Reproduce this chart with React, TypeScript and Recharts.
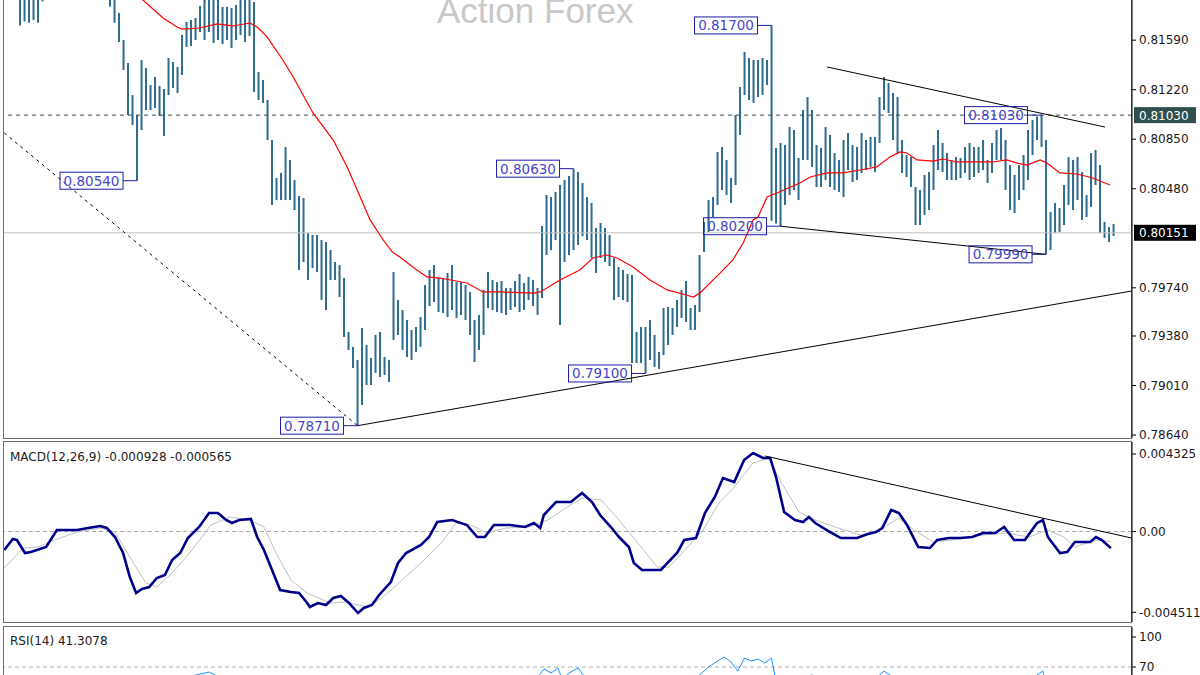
import React from "react";
import {
  ComposedChart,
  Bar,
  Line,
  XAxis,
  YAxis,
  ReferenceLine,
  ReferenceDot,
} from "recharts";

const FONT = "DejaVu Sans, Verdana, sans-serif";
const BAR_COLOR = "#2e6b8c";
const X_DOMAIN: [number, number] = [-3.56, 247.1];

// price bars, left to right (high / low)
const barHighs = [
  0.8208, 0.8205, 0.8206, 0.821, 0.8212, 0.8216, 0.822, 0.8226, 0.823, 0.8228,
  0.8232, 0.8235, 0.8233, 0.8229, 0.8226, 0.8224, 0.8221, 0.8218, 0.8214, 0.8212,
  0.821, 0.82, 0.81793, 0.81591, 0.81419, 0.8118, 0.81031, 0.81442, 0.81382, 0.81255,
  0.81315, 0.81248, 0.81225, 0.81457, 0.81427, 0.8139, 0.81629, 0.81726, 0.81741, 0.81756,
  0.81845, 0.81927, 0.8195, 0.81935, 0.81965, 0.81838, 0.81838, 0.8183, 0.81853, 0.81912,
  0.81927, 0.81927, 0.81875, 0.81352, 0.81292, 0.81143, 0.80844, 0.8056, 0.80598, 0.80792,
  0.80695, 0.80545, 0.80426, 0.80411, 0.80149, 0.80135, 0.80135, 0.80097, 0.80082, 0.80022,
  0.79933, 0.7991, 0.79813, 0.7941, 0.79298, 0.79201, 0.7944, 0.79313, 0.79216, 0.79388,
  0.7941, 0.79223, 0.79201, 0.79858, 0.79649, 0.79574, 0.795, 0.79425, 0.79447, 0.79522,
  0.79761, 0.79873, 0.7991, 0.79813, 0.79813, 0.79851, 0.7991, 0.79783, 0.79783, 0.79761,
  0.79709, 0.795, 0.79537, 0.79724, 0.79858, 0.79798, 0.79783, 0.79791, 0.79739, 0.79739,
  0.79791, 0.79843, 0.79776, 0.79821, 0.79798, 0.79739, 0.80202, 0.80433, 0.80418, 0.80456,
  0.80508, 0.80545, 0.80575, 0.8063, 0.80605, 0.80523, 0.80418, 0.80374, 0.80187, 0.80224,
  0.80187, 0.80135, 0.79963, 0.79895, 0.79873, 0.79843, 0.79836, 0.7941, 0.79447, 0.79447,
  0.795, 0.79388, 0.79261, 0.79589, 0.79597, 0.79589, 0.79649, 0.79724, 0.79791, 0.79589,
  0.79612, 0.79985, 0.80232, 0.80396, 0.80418, 0.80755, 0.80792, 0.80695, 0.8056, 0.81031,
  0.8124, 0.81502, 0.81457, 0.81442, 0.81442, 0.81457, 0.81442, 0.817, 0.80784, 0.80822,
  0.80807, 0.80941, 0.80919, 0.8071, 0.81068, 0.81165, 0.81068, 0.80807, 0.80784, 0.80941,
  0.80882, 0.80747, 0.80695, 0.80844, 0.80896, 0.80807, 0.80792, 0.80896, 0.80844, 0.80867,
  0.80867, 0.81165, 0.81315, 0.8127, 0.81195, 0.81165, 0.80844, 0.80732, 0.80717, 0.80493,
  0.80471, 0.80583, 0.80605, 0.80807, 0.80919, 0.80822, 0.80747, 0.80695, 0.80717, 0.8071,
  0.80792, 0.80822, 0.80792, 0.80792, 0.80844, 0.80695, 0.80822, 0.80919, 0.80934, 0.80844,
  0.80657, 0.80583, 0.80657, 0.80732, 0.80919, 0.80994, 0.8102, 0.8103, 0.80844, 0.80306,
  0.80374, 0.80336, 0.80508, 0.80717, 0.80695, 0.80717, 0.80605, 0.80433, 0.80747, 0.8077,
  0.80657, 0.80232, 0.80194, 0.80217,
];

const barLows = [
  0.817, 0.8173, 0.8172, 0.8174, 0.8172, 0.8188, 0.8195, 0.82, 0.8205, 0.8203,
  0.8208, 0.821, 0.8207, 0.8204, 0.82, 0.8198, 0.8196, 0.8194, 0.8192, 0.8191,
  0.8184, 0.8172, 0.81576, 0.81367, 0.81031, 0.80956, 0.8054, 0.80919, 0.81068, 0.81068,
  0.81083, 0.81023, 0.80874, 0.8118, 0.81233, 0.81195, 0.8133, 0.81539, 0.81546, 0.81591,
  0.81651, 0.81591, 0.81651, 0.81569, 0.81591, 0.81561, 0.81591, 0.81531, 0.81591, 0.81629,
  0.81576, 0.81621, 0.81203, 0.81143, 0.81121, 0.80844, 0.80359, 0.80396, 0.80396, 0.80396,
  0.80396, 0.80321, 0.79873, 0.79933, 0.79798, 0.79888, 0.79858, 0.79649, 0.79574, 0.79798,
  0.79798, 0.79671, 0.79373, 0.79276, 0.79141, 0.7871, 0.78865, 0.79014, 0.79014, 0.79104,
  0.79074, 0.79089, 0.79037, 0.7935, 0.79388, 0.79276, 0.79223, 0.79201, 0.79261, 0.79298,
  0.79425, 0.79604, 0.79634, 0.79559, 0.79552, 0.79522, 0.79574, 0.79515, 0.79537, 0.795,
  0.79388, 0.79186, 0.79276, 0.79388, 0.79589, 0.79574, 0.79559, 0.79552, 0.79537, 0.79574,
  0.79597, 0.79559, 0.79574, 0.79649, 0.79604, 0.79537, 0.79664, 0.79985, 0.80022, 0.80097,
  0.79462, 0.79933, 0.79985, 0.80022, 0.8006, 0.80127, 0.80097, 0.79963, 0.79851, 0.79963,
  0.79933, 0.79903, 0.79649, 0.79671, 0.79649, 0.79634, 0.79178, 0.79178, 0.79178, 0.791,
  0.79201, 0.79149, 0.79134, 0.79238, 0.79313, 0.79388, 0.79447, 0.79515, 0.79485, 0.79425,
  0.79425, 0.79559, 0.80008, 0.80157, 0.80269, 0.80359, 0.80471, 0.80433, 0.80374, 0.80508,
  0.80882, 0.8118, 0.81143, 0.81121, 0.81165, 0.8118, 0.81255, 0.8024, 0.8022, 0.802,
  0.80359, 0.80433, 0.80471, 0.80396, 0.80695, 0.80695, 0.80643, 0.80493, 0.80493, 0.80545,
  0.80493, 0.80471, 0.80456, 0.80418, 0.8062, 0.8053, 0.80545, 0.80598, 0.8062, 0.80643,
  0.80605, 0.80822, 0.81068, 0.81046, 0.80844, 0.80747, 0.80598, 0.80568, 0.80493, 0.80209,
  0.80209, 0.80284, 0.80321, 0.80471, 0.8062, 0.80605, 0.80545, 0.80545, 0.80545, 0.8056,
  0.80598, 0.80545, 0.80568, 0.80598, 0.8062, 0.80523, 0.80598, 0.80695, 0.80695, 0.80471,
  0.80321, 0.80299, 0.80396, 0.80471, 0.80545, 0.80732, 0.80844, 0.80792, 0.7999, 0.80022,
  0.80149, 0.80157, 0.80209, 0.80359, 0.80321, 0.80396, 0.80247, 0.80269, 0.80344, 0.80508,
  0.80149, 0.80112, 0.80082, 0.80127,
];

// red moving average: [bar index, price]
const maPoints: [number, number][] = [
  [-3.5, 0.8232], [13, 0.8222], [22, 0.8205], [27.3, 0.8189], [31.8, 0.81756], [34.9, 0.81688],
  [36, 0.81673], [40, 0.81681], [43.8, 0.81711], [47.3, 0.81696], [51.1, 0.81718], [52.7, 0.81688],
  [54.9, 0.81614], [58.4, 0.81442], [60.7, 0.81315], [65.1, 0.81046], [69.6, 0.80844], [72.7, 0.80643],
  [75.6, 0.80418], [77.8, 0.80247], [80.7, 0.80097], [82.7, 0.80008], [84.4, 0.7997], [87.3, 0.79896],
  [90.4, 0.79821], [93.3, 0.79813], [99.3, 0.79776], [102.9, 0.79709], [106.7, 0.79709], [114, 0.79701],
  [115.6, 0.79709], [120, 0.79798], [124.4, 0.79873], [127.3, 0.79963], [130.4, 0.79985], [132.7, 0.79963],
  [136.2, 0.79896], [140, 0.79798], [143.8, 0.79724], [147.3, 0.79694], [149.6, 0.79671], [151.1, 0.79701],
  [155.6, 0.79851], [158.4, 0.79948], [160.7, 0.80075], [162.9, 0.80247], [164, 0.80269], [166, 0.80418],
  [168.2, 0.80448], [173.3, 0.80523], [175.6, 0.80568], [179.3, 0.80598], [182.9, 0.80598], [186.7, 0.8062],
  [190.4, 0.80643], [193.3, 0.80717], [195.6, 0.80755], [197.1, 0.80747], [199.3, 0.80695], [202.9, 0.80687],
  [205.1, 0.80702], [208.2, 0.8068], [212.7, 0.8068], [216.2, 0.8068], [219.3, 0.80695], [221.6, 0.80672],
  [223.8, 0.80657], [226.7, 0.80695], [228.2, 0.80672], [231.1, 0.80598], [234.9, 0.8059], [238.4, 0.8056],
  [242.2, 0.80508],
];

// MACD main line: [bar index, value]
const macdMain: [number, number][] = [
  [-3.5, -0.001032], [-1.6, -0.000419], [-0.7, -0.000474], [1.1, -0.0012], [2.4, -0.001144], [5.8, -0.000865],
  [8.2, 0.000084], [12.7, 0.000084], [15.1, 0.000195], [17.8, 0.000307], [19.3, 0.000195], [21.1, -0.000307],
  [22.9, -0.0012], [24.4, -0.002539], [25.8, -0.003432], [27.1, -0.003209], [28.7, -0.003097], [30.4, -0.002595],
  [32.2, -0.002427], [33.8, -0.00159], [35.6, -0.0012], [37.3, -0.000363], [39.8, 0.000251], [42, 0.001032],
  [44, 0.001032], [45.8, 0.000642], [47.1, 0.000474], [48.7, 0.000642], [51.3, 0.000698], [52.7, -0.000307],
  [54.2, -0.001032], [56, -0.002148], [57.8, -0.003264], [60.2, -0.003376], [62, -0.003432], [63.8, -0.00399],
  [64.4, -0.004213], [66.2, -0.00399], [68, -0.004101], [69.6, -0.003711], [71.3, -0.003599], [73.1, -0.00399],
  [75.1, -0.004548], [76.4, -0.004269], [78.2, -0.004101], [79.8, -0.003543], [82.4, -0.002818], [84, -0.001758],
  [85.8, -0.0012], [89.1, -0.000753], [90.9, -0.000307], [92.7, 0.00053], [96, 0.000642], [99.3, 0.000363],
  [101.6, -0.000307], [103.3, -0.000307], [105.3, 0.000363], [108.9, 0.000363], [112.2, 0.000251], [114.2, 0.000474],
  [115.6, 0.000195], [116.4, 0.000921], [119.1, 0.001646], [122.4, 0.001646], [124.9, 0.002148], [127.1, 0.001646],
  [128.9, 0.000921], [131.3, 0.000251], [133.1, -0.000307], [135.3, -0.000865], [136.4, -0.001758], [138.2, -0.002148],
  [142.4, -0.002148], [146, -0.0012], [147.6, -0.000474], [150.2, -0.000363], [152.2, 0.001032], [154.4, 0.001925],
  [156.2, 0.002985], [158.7, 0.002762], [160.9, 0.00399], [162.9, 0.00438], [165.1, 0.004101], [166.7, 0.004101],
  [168, 0.003041], [169.8, 0.001088], [172.2, 0.000642], [174, 0.00053], [175.3, 0.000809], [176.7, 0.000474],
  [180, -0.000028], [182.4, -0.000363], [186, -0.000363], [188.4, -0.00014], [190.2, -0.000028], [191.6, 0.000195],
  [193.6, 0.0012], [195.3, 0.001032], [197.1, 0.000363], [199.6, -0.000865], [202.2, -0.000921], [203.8, -0.000474],
  [206.4, -0.000363], [208.9, -0.000363], [211.6, -0.000307], [214, -0.000084], [216.7, -0.000084], [218.7, 0.000251],
  [220.9, -0.000474], [223.3, -0.000474], [226, 0.000474], [227.3, 0.000642], [228.4, -0.000307], [231.1, -0.0012],
  [232.7, -0.001144], [234.4, -0.000586], [237.8, -0.000586], [239.1, -0.000307], [240.4, -0.000474], [242.4, -0.000928],
];

// MACD signal line: [bar index, value]
const macdSignal: [number, number][] = [
  [-3.5, -0.002036], [0.7, -0.000921], [4, -0.000865], [7.6, -0.000474], [12.7, -0.000028], [17.8, 0.000195],
  [21.1, -0.000028], [24.4, -0.001423], [28, -0.002874], [30.4, -0.003097], [33.8, -0.002316], [38.2, -0.001032],
  [42.4, 0.000363], [46.7, 0.000809], [50.9, 0.000642], [54.2, 0.000251], [56.9, -0.0012], [60.2, -0.002706],
  [63.8, -0.003432], [68.9, -0.00399], [72.2, -0.003934], [77.3, -0.004213], [80.7, -0.003655], [84.9, -0.002706],
  [89.1, -0.001758], [93.6, -0.000642], [96.9, 0.000474], [100.2, 0.000363], [103.8, -0.000084], [108, 0.000195],
  [113.1, 0.000251], [117.3, 0.000642], [121.6, 0.001367], [124.9, 0.001869], [129.1, 0.001758], [133.1, 0.000642],
  [137.3, -0.000642], [141.6, -0.001981], [144.2, -0.001981], [148.4, -0.000865], [151.8, 0.000084], [155.3, 0.00159],
  [158.7, 0.002483], [162.9, 0.003822], [166.4, 0.004101], [169.8, 0.002483], [173.1, 0.001088], [176.7, 0.000642],
  [181.8, 0.000195], [186.9, -0.000195], [190.2, -0.000028], [195.3, 0.000753], [198.7, 0.000084], [202.9, -0.000586],
  [207.1, -0.000474], [214, -0.000195], [219.1, -0.000084], [224.2, -0.000307], [228.4, 0.000084], [232, -0.000307],
  [234.4, -0.000865], [237.1, -0.000642], [239.6, -0.000474], [242.4, -0.000565],
];

// RSI(14): [bar index, value]
const rsiPoints: [number, number][] = [
  [-3.5, 44], [4, 52], [12, 58], [20, 50], [24, 33], [27, 38], [33, 55], [39, 62], [42, 65], [45, 58],
  [50, 60], [53, 40], [57, 32], [62, 28], [68, 30], [74, 22], [76, 35], [82, 30], [85, 50], [92, 58],
  [100, 50], [108, 52], [114, 55], [116.5, 68], [118, 64], [119.5, 69], [120.5, 58], [122, 64], [124, 69],
  [125.5, 60], [128, 52], [136, 30], [140, 33], [147, 50], [151, 62], [153, 70], [155, 76], [156.5, 80],
  [158, 75], [159.5, 66], [161, 79], [162.5, 76], [164, 78], [165.5, 74], [167, 79], [168, 55], [172, 58],
  [176, 62], [180, 55], [190, 58], [192, 66], [194, 60], [199, 45], [204, 58], [215, 52], [222, 50],
  [226, 62], [227.3, 66], [228.4, 42], [235, 55], [240, 44], [242.4, 41.3],
];

const priceTicks = [0.8159, 0.8122, 0.8085, 0.8048, 0.7974, 0.7938, 0.7901, 0.7864];
const macdTicks = [0.004325, 0, -0.004511];
const rsiTicks = [100, 70];

// marked swing highs / lows: [bar index, price]
const pivots: [number, number][] = [
  [26, 0.8054], [123, 0.8063], [167, 0.817], [169, 0.802],
  [139, 0.791], [75, 0.7871], [227, 0.8103], [228, 0.7999],
];

// trend lines: [start, end] as [bar index, price]
const priceTrends: { from: [number, number]; to: [number, number]; dash?: string }[] = [
  { from: [-3.5, 0.80897], to: [75, 0.7871], dash: "3 4" },
  { from: [75, 0.7871], to: [247, 0.79716] },
  { from: [169, 0.802], to: [228, 0.7999] },
  { from: [179.3, 0.8139], to: [241.1, 0.80941] },
];
const macdTrend: [number, number][] = [[165.6, 0.004213], [247, -0.000363]];

const priceData = barHighs.map((h, i) => ({ i, range: [barLows[i], h] }));
const toXY = (pts: [number, number][]) => pts.map(([i, v]) => ({ i, v }));

const OhlcBar = (props: any) => {
  const { x, y, width, height } = props;
  if (x == null || y == null || height == null) return null;
  const cx = x + width / 2;
  const top = Math.min(y, y + height);
  return <rect x={cx - 1} y={top} width={2} height={Math.max(Math.abs(height), 1)} fill={BAR_COLOR} />;
};

const PivotBox = (props: any) => {
  const { cx, cy, text } = props;
  if (cx == null) return null;
  const right = cx - 14;
  const left = right - 63;
  return (
    <g>
      <line x1={right} y1={cy} x2={cx} y2={cy} stroke="#1c1ca8" />
      <rect x={left} y={cy - 8.5} width={63} height={17} fill="none" stroke="#1c1ca8" />
      <text x={left + 31.5} y={cy + 5} textAnchor="middle" fontSize={13.5} fill="#4646c8" fontFamily={FONT}>
        {text}
      </text>
    </g>
  );
};

const PriceTag = (props: any) => {
  const { viewBox, text, bg } = props;
  if (!viewBox) return null;
  const x = viewBox.x + viewBox.width + 2;
  const y = viewBox.y;
  return (
    <g>
      <rect x={x} y={y - 8} width={62} height={16} fill={bg} />
      <text x={x + 5} y={y + 4.5} fill="#fff" fontSize={12} fontFamily={FONT}>
        {text}
      </text>
    </g>
  );
};

const axisProps = {
  orientation: "right" as const,
  width: 68,
  type: "number" as const,
  allowDataOverflow: true,
  interval: 0 as const,
  tickSize: 4,
  tickMargin: 3,
  axisLine: { stroke: "#000" },
  tickLine: { stroke: "#000" },
  tick: { fontSize: 12, fill: "#1a1a1a", fontFamily: FONT },
};

const frame = (top: number, height: number): React.CSSProperties => ({
  position: "absolute",
  left: 3,
  top,
  width: 1129,
  height,
  border: "1px solid #707070",
  boxSizing: "border-box",
});

export default function App() {
  return (
    <div style={{ position: "fixed", left: 0, top: 0, width: 1200, height: 675, background: "#fff", overflow: "hidden" }}>
      <div style={frame(-2, 441)} />
      <div style={frame(441, 182)} />
      <div style={frame(626, 60)} />

      <svg style={{ position: "absolute", left: 0, top: 0 }} width={1200} height={40}>
        <text x={437} y={23} fontSize={35} fill="#c8c8c8" fontFamily="Liberation Sans, Arial, sans-serif">
          Action Forex
        </text>
      </svg>

      <div style={{ position: "absolute", left: 0, top: 0 }}>
        <ComposedChart width={1200} height={440} data={priceData} margin={{ top: 0, right: 0, left: 4, bottom: 2 }}>
          <XAxis dataKey="i" type="number" domain={X_DOMAIN} allowDataOverflow hide />
          <YAxis {...axisProps} domain={[0.78618, 0.8189]} ticks={priceTicks} tickFormatter={(v: number) => v.toFixed(5)} />
          <ReferenceLine y={0.80151} stroke="#c0c0c0" label={<PriceTag text="0.80151" bg="#000" />} />
          <ReferenceLine y={0.8103} stroke="#2f4f4f" strokeDasharray="4 4" label={<PriceTag text="0.81030" bg="#2f4f4f" />} />
          <Bar dataKey="range" shape={OhlcBar} isAnimationActive={false} />
          <Line data={toXY(maPoints)} dataKey="v" stroke="#ff0000" strokeWidth={1.2} dot={false} isAnimationActive={false} />
          {priceTrends.map((t, k) => (
            <ReferenceLine
              key={k}
              segment={[{ x: t.from[0], y: t.from[1] }, { x: t.to[0], y: t.to[1] }]}
              stroke="#000"
              strokeWidth={1}
              strokeDasharray={t.dash}
            />
          ))}
          {pivots.map(([i, p]) => (
            <ReferenceDot
              key={i}
              x={i}
              y={p}
              r={0}
              shape={(sp: any) => <PivotBox {...sp} text={p.toFixed(5)} />}
            />
          ))}
        </ComposedChart>
      </div>

      <div style={{ position: "absolute", left: 0, top: 442 }}>
        <ComposedChart width={1200} height={180} margin={{ top: 0, right: 0, left: 4, bottom: 0 }}>
          <XAxis dataKey="i" type="number" domain={X_DOMAIN} allowDataOverflow hide />
          <YAxis
            {...axisProps}
            domain={[-0.00505, 0.004995]}
            ticks={macdTicks}
            tickFormatter={(v: number) => (v === 0 ? "0.00" : v.toFixed(6))}
          />
          <ReferenceLine y={0} stroke="#a8a8a8" strokeDasharray="4 3" />
          <Line data={toXY(macdSignal)} dataKey="v" stroke="#c0c0c0" strokeWidth={1} dot={false} isAnimationActive={false} />
          <Line data={toXY(macdMain)} dataKey="v" stroke="#00008b" strokeWidth={2.6} dot={false} isAnimationActive={false} />
          <ReferenceLine
            segment={[{ x: macdTrend[0][0], y: macdTrend[0][1] }, { x: macdTrend[1][0], y: macdTrend[1][1] }]}
            stroke="#000"
            strokeWidth={1}
          />
        </ComposedChart>
      </div>

      <div style={{ position: "absolute", left: 0, top: 627 }}>
        <ComposedChart width={1200} height={48} margin={{ top: 0, right: 0, left: 4, bottom: 0 }}>
          <XAxis dataKey="i" type="number" domain={X_DOMAIN} allowDataOverflow hide />
          <YAxis {...axisProps} domain={[62, 110]} ticks={rsiTicks} />
          <ReferenceLine y={70} stroke="#b0b0b0" strokeDasharray="4 3" />
          <Line data={toXY(rsiPoints)} dataKey="v" stroke="#1e90ff" strokeWidth={1} dot={false} isAnimationActive={false} />
        </ComposedChart>
      </div>

      <svg style={{ position: "absolute", left: 0, top: 0, pointerEvents: "none" }} width={1200} height={675}>
        <text x={10} y={461} fontSize={12} fill="#222" fontFamily={FONT}>
          MACD(12,26,9) -0.000928 -0.000565
        </text>
        <text x={10} y={645} fontSize={12} fill="#222" fontFamily={FONT}>
          RSI(14) 41.3078
        </text>
      </svg>
    </div>
  );
}
